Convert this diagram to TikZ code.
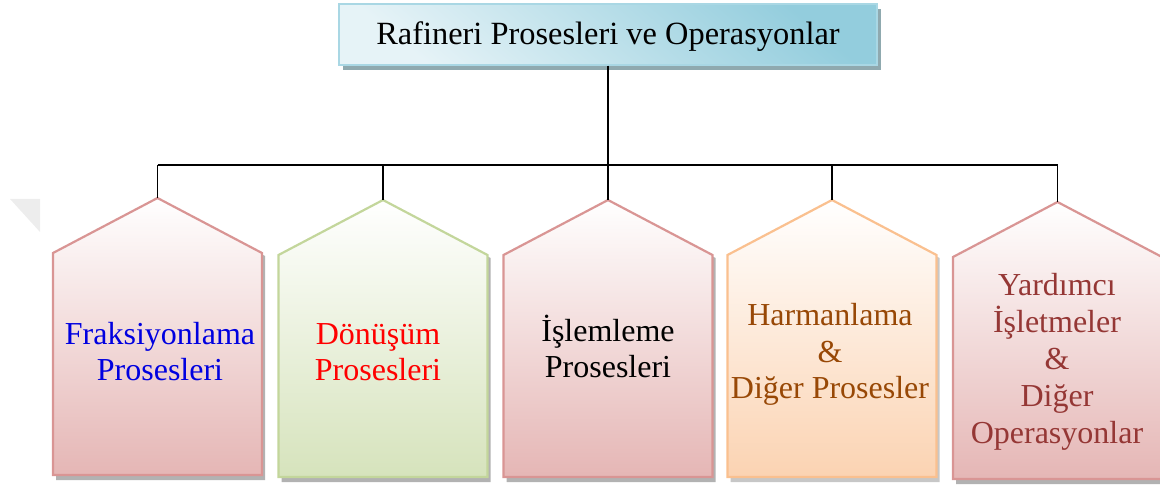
\documentclass[tikz,border=0pt]{standalone}
\usepackage{fontspec}
\setmainfont{Liberation Serif}
\usetikzlibrary{shadows}
\definecolor{pinkline}{HTML}{D99594}
\definecolor{pinkfill}{HTML}{E5B6B5}
\definecolor{greenline}{HTML}{C3D69B}
\definecolor{greenfill}{HTML}{D6E3BC}
\definecolor{orangeline}{HTML}{FAC08F}
\definecolor{orangefill}{HTML}{FBD3B2}
\definecolor{titledark}{HTML}{93CDDD}
\definecolor{titlelight}{HTML}{E6F3F7}
\definecolor{titleshadow}{HTML}{8FA9AF}
\definecolor{txtblue}{HTML}{0000E0}
\definecolor{txtred}{HTML}{FF0000}
\definecolor{txtbrown}{HTML}{984806}
\definecolor{txtmaroon}{HTML}{953735}
\newcommand\pentbox[6]{% #1 cx, #2 dy, #3 line, #4 fill, #5 shadow, #6 apex name
  \begin{scope}[shift={(#1,#2)}]
    \fill[#5] (-101.5,257) -- (3,202) -- (107.5,257) -- (107.5,481) -- (-101.5,481) -- cycle;
    \shade[top color=white, bottom color=#4, draw=#3, line width=2.2pt]
      (-104.5,254) -- (0,199) -- (104.5,254) -- (104.5,476) -- (-104.5,476) -- cycle;
    \coordinate (#6) at (0,199);
  \end{scope}}
\begin{document}
\begin{tikzpicture}[x=1pt,y=-1pt,
  conn/.style={line width=1.6pt, black},
  lbl/.style={font=\fontsize{32}{36.8}\selectfont, align=center, inner sep=0pt},
  titlebox/.style={draw=titledark!80!white, line width=1.4pt,
    top color=titledark, bottom color=titlelight, shading angle=-40,
    minimum width=538pt, minimum height=61pt, inner sep=0pt,
    font=\fontsize{32.4}{36}\selectfont, text height=21pt, text depth=0pt,
    drop shadow={shadow xshift=4pt, shadow yshift=-5pt, fill=titleshadow, opacity=1}}]
\useasboundingbox (0,0) rectangle (1160,486);
% faint triangle at left
\fill[gray!14] (10,199) -- (40,199) -- (40,232) -- cycle;
% pentagons
\pentbox{157.5}{-1}{pinkline}{pinkfill}{black!30}{p1}
\pentbox{383}{1}{greenline}{greenfill}{black!30}{p2}
\pentbox{608}{1}{pinkline}{pinkfill}{black!30}{p3}
\pentbox{832}{1}{orangeline}{orangefill}{black!22}{p4}
\pentbox{1057.5}{3}{pinkline}{pinkfill}{black!30}{p5}
% title
\node[titlebox] (title) at (608,34.5) {Rafineri Prosesleri ve Operasyonlar};
% connectors
\coordinate (hub) at (608,165);
\coordinate (h1) at (157.5,165);
\coordinate (h2) at (383,165);
\coordinate (h4) at (832,165);
\coordinate (h5) at (1057.5,165);
\draw[conn] (title.south) -- (hub);
\draw[conn] (h1) -- (h5);
\draw[conn] (h1) -- (p1);
\draw[conn] (h2) -- (p2);
\draw[conn] (hub) -- (p3);
\draw[conn] (h4) -- (p4);
\draw[conn] (h5) -- (p5);
% labels (base anchor = baseline of last line)
\node[lbl, text=txtblue, anchor=base] (t1) at (160,381) {Fraksiyonlama\\Prosesleri};
\node[lbl, text=txtred, anchor=base] (t2) at (378,381) {Dönüşüm\\Prosesleri};
\node[lbl, text=black, anchor=base] (t3) at (608,378) {İşlemleme\\Prosesleri};
\node[lbl, text=txtbrown, anchor=base] (t4) at (830,399) {Harmanlama\\\&\\Diğer Prosesler};
\node[lbl, text=txtmaroon, anchor=base] (t5) at (1057,443) {Yardımcı\\İşletmeler\\\&\\Diğer\\Operasyonlar};
\end{tikzpicture}
\end{document}
